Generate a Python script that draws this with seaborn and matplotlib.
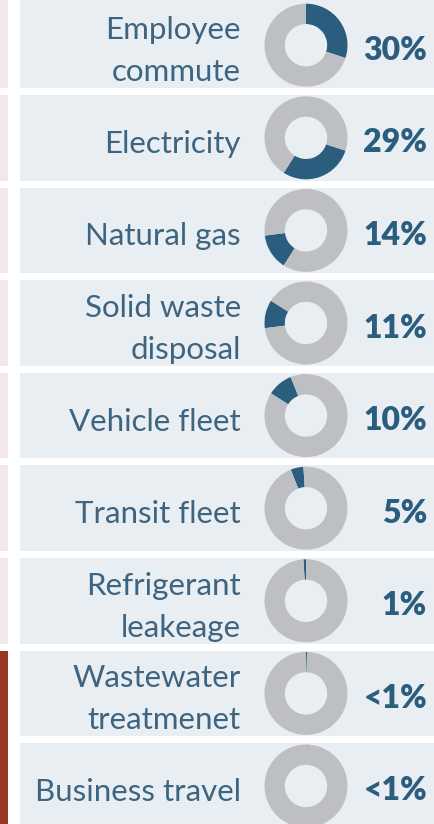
import matplotlib
matplotlib.use("Agg")
import matplotlib.pyplot as plt
import seaborn as sns
from matplotlib.patches import Rectangle

# ---- data ----
categories = ["Employee\ncommute", "Electricity", "Natural gas", "Solid waste\ndisposal",
              "Vehicle fleet", "Transit fleet", "Refrigerant\nleakeage",
              "Wastewater\ntreatmenet", "Business travel"]
shares = [30, 29, 14, 11, 10, 5, 1, 0.4, 0.2]
share_labels = ["30%", "29%", "14%", "11%", "10%", "5%", "1%", "<1%", "<1%"]
strip_group = ["light", "light", "light", "light", "light", "light", "light", "dark", "dark"]

# ---- style ----
sns.set_theme(style="white")
plt.rcParams["font.family"] = ["Lato", "DejaVu Sans"]

BLUE = "#2b5e7e"
GREY = "#bdbfc2"
PANEL = "#e9eef2"
LABEL_C = "#3d6480"
PINK = "#f4e7e7"
DARKRED = "#973822"

W, H = 434, 824
fig = plt.figure(figsize=(W / 100, H / 100), dpi=100)
fig.patch.set_facecolor("white")
bg = fig.add_axes([0, 0, 1, 1])
bg.set_xlim(0, W)
bg.set_ylim(H, 0)
bg.axis("off")

pitch = 92.6
top0 = 2.4
ph = 85.6
cx = 306
R = 41.5

cum = 0.0
for i, (cat, val, lab, grp) in enumerate(zip(categories, shares, share_labels, strip_group)):
    top = top0 + i * pitch
    draw_top = -10 if i == 0 else top
    draw_h = ph + (top - draw_top)
    if i == len(categories) - 1:
        draw_h += 20
    bg.add_patch(Rectangle((20, draw_top), W, draw_h, color=PANEL, lw=0))
    if grp == "light":
        bg.add_patch(Rectangle((0, draw_top), 8, draw_h, color=PINK, lw=0))
    cy = top + ph / 2

    # label
    lines = cat.split("\n")
    if len(lines) == 1:
        bases = [cy + 15]
    else:
        bases = [cy + 15 - 21, cy + 15 + 21]
    for ln, b in zip(lines, bases):
        bg.text(241, b, ln, ha="right", va="baseline", fontsize=22.5, color=LABEL_C)

    # percentage
    bg.text(427, cy + 14.5, lab, ha="right", va="baseline", fontsize=23,
            fontweight="heavy", color=BLUE)

    # donut
    ax = fig.add_axes([(cx - R) / W, 1 - (cy + R) / H, 2 * R / W, 2 * R / H])
    ax.pie([val, 100 - val], startangle=90 - cum * 3.6, counterclock=False,
           colors=[BLUE, GREY], wedgeprops=dict(width=0.49, edgecolor="none", linewidth=0),
           radius=1)
    ax.set_xlim(-1.0, 1.0)
    ax.set_ylim(-1.0, 1.0)
    ax.axis("off")
    cum += val

# dark strip for last group (continuous)
dark_idx = [k for k, g in enumerate(strip_group) if g == "dark"]
dtop = top0 + dark_idx[0] * pitch
bg.add_patch(Rectangle((0, dtop), 8, H - dtop + 10, color=DARKRED, lw=0))

fig.savefig("out.png", dpi=100, facecolor="white")
